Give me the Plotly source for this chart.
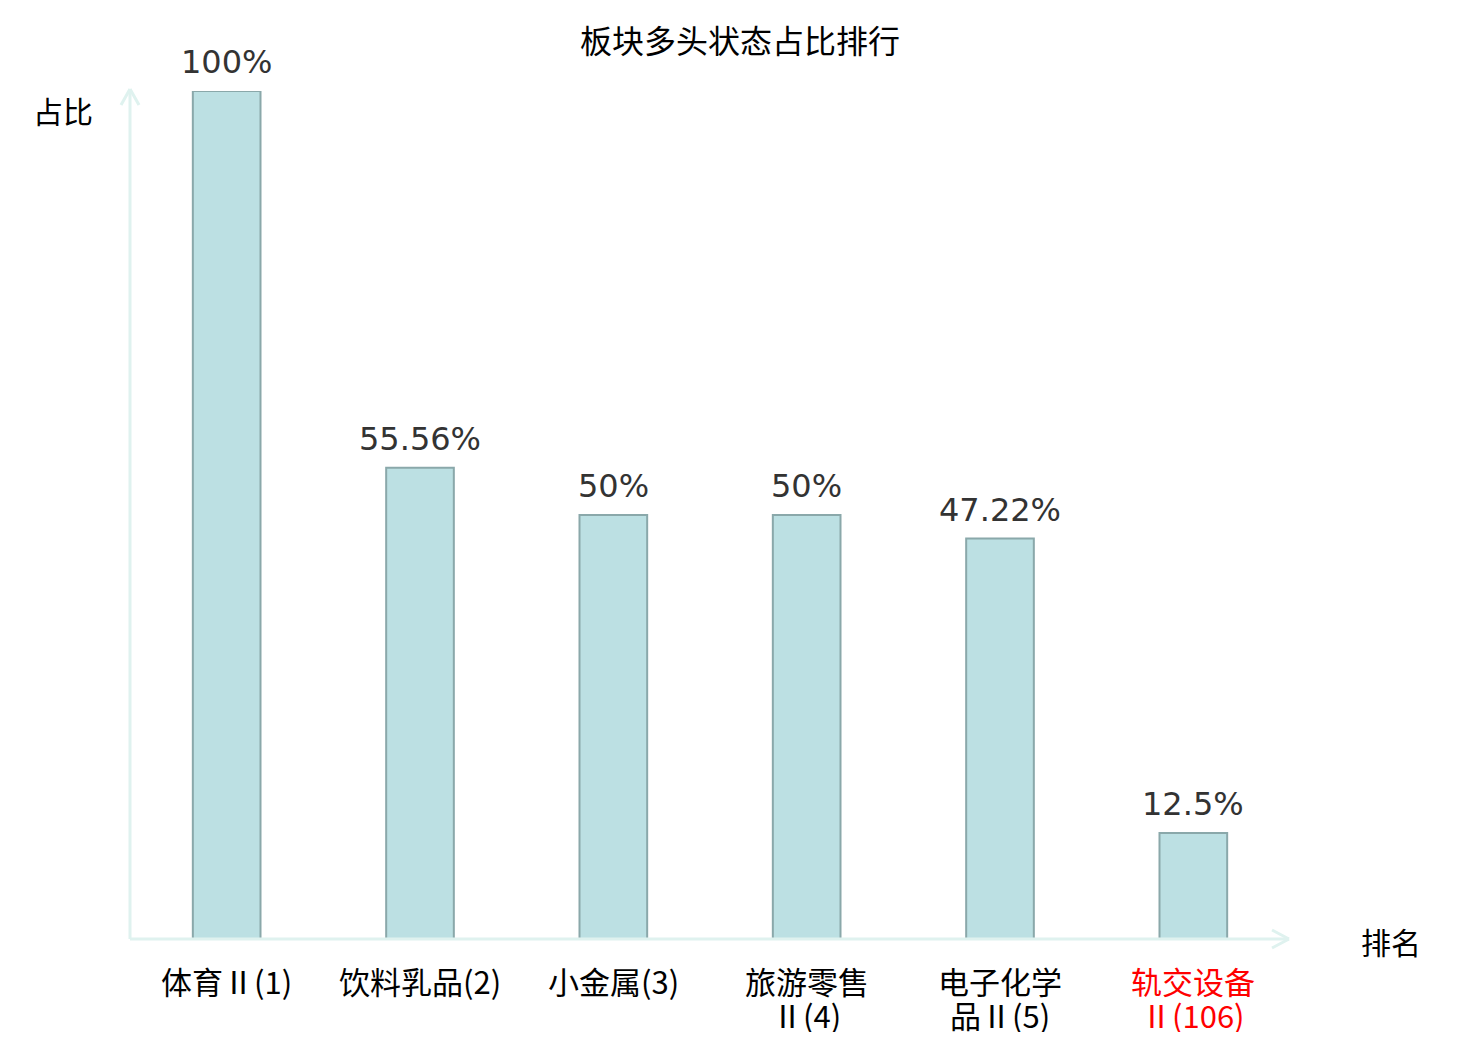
import plotly.graph_objects as go

categories = ["体育Ⅱ(1)", "饮料乳品(2)", "小金属(3)", "旅游零售<br>Ⅱ(4)", "电子化学<br>品Ⅱ(5)", "轨交设备<br>Ⅱ(106)"]
values = [100, 55.56, 50, 50, 47.22, 12.5]
value_labels = ["100%", "55.56%", "50%", "50%", "47.22%", "12.5%"]
label_colors = ["#000000", "#000000", "#000000", "#000000", "#000000", "#ff0000"]

NUM_FONT = "DejaVu Sans, Noto Sans CJK SC, sans-serif"
CJK_FONT = "Noto Sans CJK SC, DejaVu Sans, sans-serif"
OFF = 8  # page body margin
W, H = 1480 - 2 * OFF, 1040 - 2 * OFF
# plot area in screenshot coordinates
X0, X1, Y0, Y1 = 130, 1290, 91, 939
L, R, T, B = X0 - OFF, W - (X1 - OFF), Y0 - OFF, H - (Y1 - OFF)
PW, PH = X1 - X0, Y1 - Y0

def px(x):
    return (x - X0) / PW

def py(y):
    return (Y1 - y) / PH

fig = go.Figure()
fig.add_trace(go.Bar(
    x=list(range(len(categories))),
    y=values,
    marker=dict(color="#bce0e3", line=dict(color="#8aa8aa", width=2)),
    width=0.35,
    cliponaxis=False,
    hoverinfo="skip",
))

axis_col = "#dff2ef"
shapes = [
    dict(type="line", xref="paper", yref="paper", x0=px(130), x1=px(130), y0=py(939), y1=py(89), line=dict(color=axis_col, width=3)),
    dict(type="line", xref="paper", yref="paper", x0=px(121), x1=px(130), y0=py(105), y1=py(89), line=dict(color=axis_col, width=3)),
    dict(type="line", xref="paper", yref="paper", x0=px(139), x1=px(130), y0=py(105), y1=py(89), line=dict(color=axis_col, width=3)),
    dict(type="line", xref="paper", yref="paper", x0=px(130), x1=px(1289), y0=py(939), y1=py(939), line=dict(color=axis_col, width=3)),
    dict(type="line", xref="paper", yref="paper", x0=px(1272), x1=px(1289), y0=py(930), y1=py(939), line=dict(color=axis_col, width=3)),
    dict(type="line", xref="paper", yref="paper", x0=px(1272), x1=px(1289), y0=py(948), y1=py(939), line=dict(color=axis_col, width=3)),
]

annotations = [
    dict(x=i, y=v, xref="x", yref="y", text=t, showarrow=False, xanchor="center", yanchor="bottom", yshift=8,
         font=dict(family=NUM_FONT, size=32, color="#333333"))
    for i, (v, t) in enumerate(zip(values, value_labels))
]
# category labels (one annotation per line, tight line spacing)
line_y = [980, 1014]
for i, (cat, col) in enumerate(zip(categories, label_colors)):
    for j, part in enumerate(cat.split("<br>")):
        annotations.append(dict(x=i, y=py(line_y[j]), xref="x", yref="paper", text=part, showarrow=False,
                                xanchor="center", yanchor="middle",
                                font=dict(family=CJK_FONT, size=31, color=col)))
annotations += [
    dict(x=px(63), y=py(110), xref="paper", yref="paper", text="占比", showarrow=False,
         xanchor="center", yanchor="middle", font=dict(family=CJK_FONT, size=30, color="#000000")),
    dict(x=px(1391), y=py(941), xref="paper", yref="paper", text="排名", showarrow=False,
         xanchor="center", yanchor="middle", font=dict(family=CJK_FONT, size=30, color="#000000")),
]

fig.update_layout(
    width=W, height=H,
    margin=dict(l=L, r=R, t=T, b=B, pad=0, autoexpand=False),
    paper_bgcolor="white", plot_bgcolor="white",
    showlegend=False,
    title=dict(text="板块多头状态占比排行", x=(740 - OFF) / W, xanchor="center", xref="container",
               y=1 - (42 - OFF) / H, yanchor="middle", yref="container",
               font=dict(family=CJK_FONT, size=32, color="#000000")),
    xaxis=dict(range=[-0.5, len(categories) - 0.5], showticklabels=False,
               showgrid=False, zeroline=False, showline=False, ticks="", automargin=False),
    yaxis=dict(range=[0, 100], visible=False, automargin=False),
    shapes=shapes,
    annotations=annotations,
)

fig.write_html("out.html")
